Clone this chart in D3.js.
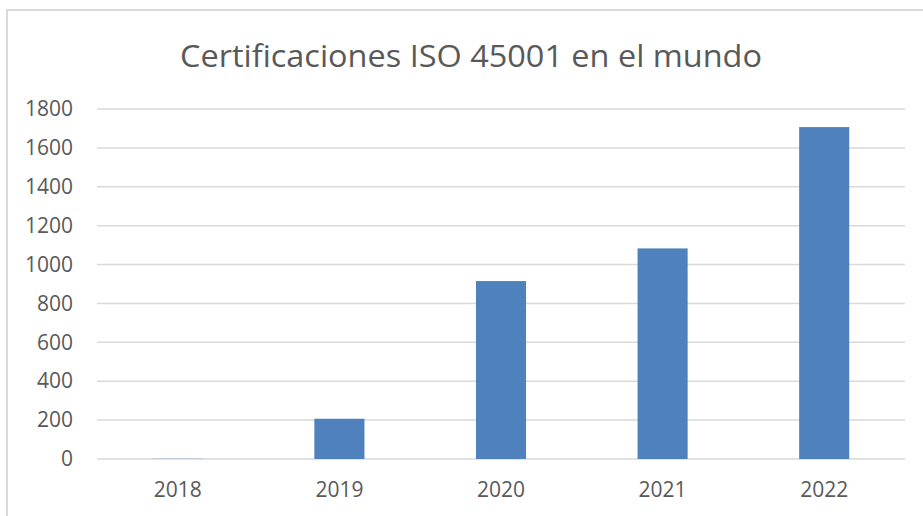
<!DOCTYPE html>
<html>
<head>
<meta charset="utf-8">
<script src="https://cdn.jsdelivr.net/npm/d3@7/dist/d3.min.js"></script>
<style>
html,body{margin:0;padding:0;background:#fff;}
svg{display:block;}
</style>
</head>
<body>
<svg id="chart" width="923" height="516"></svg>
<script>
const categories = ["2018", "2019", "2020", "2021", "2022"];
const values = [1, 207, 915, 1083, 1707];
const yTicks = [0, 200, 400, 600, 800, 1000, 1200, 1400, 1600, 1800];
const title = "Certificaciones ISO 45001 en el mundo";

const svg = d3.select("#chart");
const W = 923, H = 516;
const margin = {left: 97, right: 18, top: 109, bottom: 57};
const font = "'Open Sans', 'Liberation Sans', sans-serif";
const textColor = "#595959";
const gridColor = "#d9d9d9";

svg.append("rect").attr("x", 0).attr("y", 0).attr("width", W).attr("height", H).attr("fill", "#fff");
// chart area border
svg.append("path")
  .attr("d", `M7,${H} L7,10 L${W},10`)
  .attr("fill", "none").attr("stroke", gridColor).attr("stroke-width", 2);

const x = d3.scaleBand().domain(categories)
  .range([margin.left, W - margin.right])
  .paddingInner(0.69).paddingOuter(0.345);
const y = d3.scaleLinear().domain([0, 1800]).range([H - margin.bottom, margin.top]);

// gridlines
svg.append("g").selectAll("line").data(yTicks).join("line")
  .attr("x1", margin.left).attr("x2", W - margin.right)
  .attr("y1", d => y(d)).attr("y2", d => y(d))
  .attr("stroke", gridColor).attr("stroke-width", 1.5);

// y axis labels
const yAxis = d3.axisLeft(y).tickValues(yTicks).tickSize(0).tickPadding(0).tickFormat(d3.format("d"));
const gy = svg.append("g").attr("transform", `translate(${73},0)`).call(yAxis);
gy.select(".domain").remove();
gy.selectAll("text").attr("fill", textColor).style("font-family", font).style("font-size", "21px");

// bars
svg.append("g").selectAll("rect").data(values).join("rect")
  .attr("x", (d, i) => x(categories[i]))
  .attr("width", x.bandwidth())
  .attr("y", d => y(d))
  .attr("height", d => y(0) - y(d))
  .attr("fill", "#4f81bd");

// x axis labels
const xAxis = d3.axisBottom(x).tickSize(0).tickPadding(0);
const gx = svg.append("g").attr("transform", `translate(0,${482})`).call(xAxis);
gx.select(".domain").remove();
gx.selectAll("text").attr("fill", textColor).attr("dy", "0.71em").style("font-family", font).style("font-size", "21px");

// title
svg.append("text")
  .attr("x", 471).attr("y", 67)
  .attr("text-anchor", "middle")
  .attr("fill", textColor)
  .style("font-family", font).style("font-size", "31px")
  .attr("textLength", 582).attr("lengthAdjust", "spacingAndGlyphs")
  .text(title);
</script>
</body>
</html>
